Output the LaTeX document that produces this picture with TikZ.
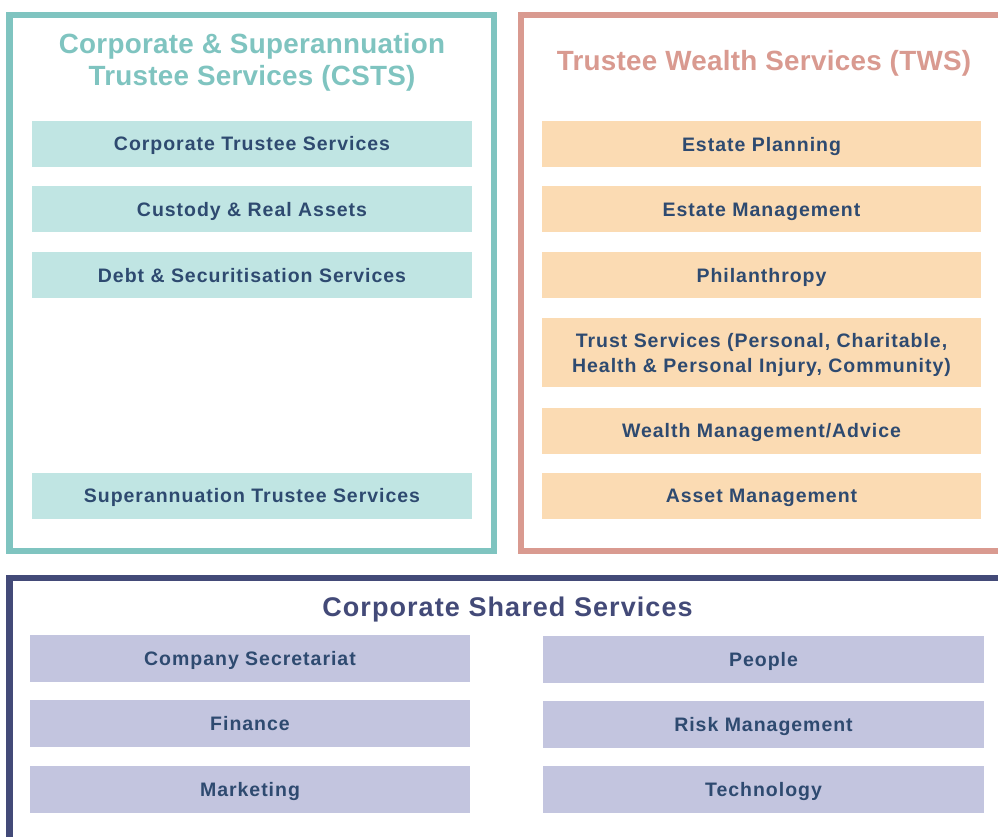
\documentclass[tikz,border=0pt]{standalone}
\usepackage{fontspec}
\setmainfont{Liberation Sans}
\newfontfamily\itemfont[LetterSpace=5]{Liberation Sans}
\newfontfamily\titlefont[LetterSpace=1]{Liberation Sans}
\newfontfamily\headfont[LetterSpace=4]{Liberation Sans}
\definecolor{cstsLine}{HTML}{7FC4C0}
\definecolor{cstsFill}{HTML}{C0E5E3}
\definecolor{twsLine}{HTML}{D99A90}
\definecolor{twsFill}{HTML}{FBDBB3}
\definecolor{cssLine}{HTML}{434A78}
\definecolor{cssFill}{HTML}{C3C5DF}
\definecolor{itemText}{HTML}{2E4A70}
\tikzset{
    frame/.style={line width=6.5pt, fill=white},
    title/.style={font=\titlefont\fontsize{27.8}{32}\selectfont\bfseries, align=center, inner sep=0pt},
    item/.style={inner sep=0pt, minimum height=46pt, text height=14pt, text depth=0pt,
        font=\itemfont\fontsize{19.5}{25}\selectfont\bfseries, text=itemText, align=center},
    cstsItem/.style={item, fill=cstsFill, minimum width=440pt},
    twsItem/.style={item, fill=twsFill, minimum width=439pt},
    cssItem/.style={item, fill=cssFill, minimum width=440pt, minimum height=47pt},
}
\begin{document}
\begin{tikzpicture}[x=1pt, y=-1pt]
\useasboundingbox (0,0) rectangle (998,837);
\begin{scope}
\clip (0,0) rectangle (998,837);
% the three frames
\draw[frame, draw=cstsLine] (9.5,15) rectangle (494,551);
\draw[frame, draw=twsLine] (521,15) rectangle (1010,551);
\draw[frame, draw=cssLine] (9.5,578) rectangle (1010,850);
\end{scope}

% CSTS
\node[title, text=cstsLine, text height=52pt, text depth=0pt] (cstsTitle) at (252,60)
    {Corporate \& Superannuation\\Trustee Services (CSTS)};
\node[cstsItem] (corpTrustee) at (252,144) {Corporate Trustee Services};
\node[cstsItem] (custody) at (252,209) {Custody \& Real Assets};
\node[cstsItem] (debt) at (252,275) {Debt \& Securitisation Services};
\node[cstsItem] (superTrustee) at (252,495.5) {Superannuation Trustee Services};

% TWS
\node[title, text=twsLine, anchor=base] (twsTitle) at (764,70.5) {Trustee Wealth Services (TWS)};
\node[twsItem] (estatePlan) at (761.5,144.5) {Estate Planning};
\node[twsItem] (estateMgmt) at (761.5,209) {Estate Management};
\node[twsItem] (philanthropy) at (761.5,275) {Philanthropy};
\node[twsItem, minimum height=69pt, text height=39pt] (trustServ) at (761.5,352.5)
    {Trust Services (Personal, Charitable,\\Health \& Personal Injury, Community)};
\node[twsItem] (wealthMgmt) at (761.5,430.5) {Wealth Management/Advice};
\node[twsItem] (assetMgmt) at (761.5,495.5) {Asset Management};

% shared services
\node[title, text=cssLine, anchor=base, font=\headfont\fontsize{27}{30}\selectfont\bfseries]
    (cssTitle) at (507.5,616) {Corporate Shared Services};
\node[cssItem] (secretariat) at (250,658.5) {Company Secretariat};
\node[cssItem] (finance) at (250,723.5) {Finance};
\node[cssItem] (marketing) at (250,789) {Marketing};
\node[cssItem, minimum width=441pt] (people) at (763.5,659) {People};
\node[cssItem, minimum width=441pt] (risk) at (763.5,724) {Risk Management};
\node[cssItem, minimum width=441pt] (technology) at (763.5,789.5) {Technology};
\end{tikzpicture}
\end{document}
